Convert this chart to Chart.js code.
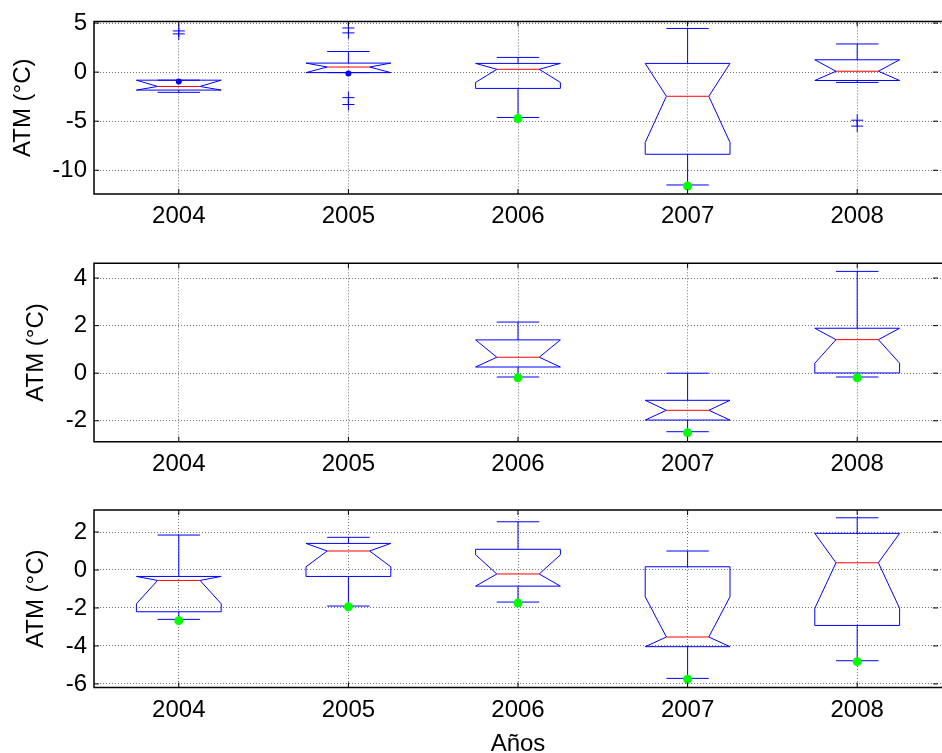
<!DOCTYPE html>
<html>
<head>
<meta charset="utf-8">
<script src="https://cdn.jsdelivr.net/npm/chart.js@4.4.0/dist/chart.umd.min.js"></script>
<style>
  html, body { margin: 0; padding: 0; background: #fff; overflow: hidden; }
  #wrap { position: relative; width: 942px; height: 753px; }
  canvas { position: absolute; left: 0; }
</style>
</head>
<body>
<div id="wrap">
  <canvas id="atm1" width="942" height="240" style="top:0px"></canvas>
  <canvas id="atm2" width="942" height="240" style="top:240px"></canvas>
  <canvas id="atm3" width="942" height="279" style="top:480px"></canvas>
</div>
<script>
var years = ['2004', '2005', '2006', '2007', '2008'];

// panel 1
var p1WhiskerHi = [-0.82, 2.10, 1.50, 4.45, 2.87];
var p1Q3        = [-0.82, 0.92, 0.89, 0.89, 1.26];
var p1NotchHi   = [-0.82, 0.92, 0.89, 0.89, 1.26];
var p1Median    = [-1.46, 0.52, 0.29, -2.46, 0.09];
var p1NotchLo   = [-1.83, -0.05, -1.05, -7.17, -0.85];
var p1Q1        = [-1.83, -0.05, -1.66, -8.37, -0.85];
var p1WhiskerLo = [-2.06, -0.05, -4.62, -11.5, -1.05];
var p1Outliers  = [[4.2, 3.9], [4.5, 4.0, -2.6, -3.3], [], [], [-4.9, -5.5]];
var p1Blue      = [-0.95, -0.15, null, null, null];
var p1Green     = [null, null, -4.72, -11.6, null];
var p1Ticks     = [-10, -5, 0, 5];

// panel 2
var p2WhiskerHi = [null, null, 2.15, 0.00, 4.28];
var p2Q3        = [null, null, 1.40, -1.14, 1.89];
var p2NotchHi   = [null, null, 1.40, -1.14, 1.89];
var p2Median    = [null, null, 0.67, -1.56, 1.41];
var p2NotchLo   = [null, null, 0.26, -1.97, 0.42];
var p2Q1        = [null, null, 0.26, -1.97, 0.01];
var p2WhiskerLo = [null, null, -0.16, -2.46, -0.16];
var p2Green     = [null, null, -0.19, -2.50, -0.19];
var p2Ticks     = [-2, 0, 2, 4];

// panel 3
var p3WhiskerHi = [1.84, 1.72, 2.54, 1.00, 2.75];
var p3Q3        = [-0.34, 1.40, 1.09, 0.17, 1.93];
var p3NotchHi   = [-0.34, 1.40, 0.80, -1.41, 1.93];
var p3Median    = [-0.55, 1.00, -0.21, -3.53, 0.38];
var p3NotchLo   = [-1.78, 0.17, -0.85, -4.04, -2.02];
var p3Q1        = [-2.20, -0.34, -0.85, -4.04, -2.92];
var p3WhiskerLo = [-2.60, -1.90, -1.69, -5.71, -4.78];
var p3Green     = [-2.67, -1.94, -1.74, -5.75, -4.83];
var p3Ticks     = [-6, -4, -2, 0, 2];

var boxWidth = 0.5;
var font = { family: 'Liberation Sans, Arial, sans-serif', size: 24 };
var boxes = {};

function pts(values) {
  var out = [];
  values.forEach(function (v, i) { if (v != null) out.push({ x: i + 1, y: v }); });
  return out;
}
function outlierPts(lists) {
  var out = [];
  lists.forEach(function (l, i) { l.forEach(function (v) { out.push({ x: i + 1, y: v }); }); });
  return out;
}

// notched boxes, drawn through the chart scales
var boxPlugin = {
  id: 'notchBox',
  beforeDatasetsDraw: function (chart) {
    var b = boxes[chart.canvas.id];
    var xs = chart.scales.x, ys = chart.scales.y, ctx = chart.ctx;
    var unit = xs.getPixelForValue(1) - xs.getPixelForValue(0);
    var hw = unit * boxWidth / 2, qw = hw / 2;
    ctx.save();
    ctx.lineWidth = 1;
    for (var i = 0; i < years.length; i++) {
      if (b.med[i] == null) continue;
      var x = xs.getPixelForValue(i + 1);
      var q1 = ys.getPixelForValue(b.q1[i]), q3 = ys.getPixelForValue(b.q3[i]);
      var md = ys.getPixelForValue(b.med[i]);
      var nlo = ys.getPixelForValue(b.nlo[i]), nhi = ys.getPixelForValue(b.nhi[i]);
      var wlo = ys.getPixelForValue(b.wlo[i]), whi = ys.getPixelForValue(b.whi[i]);
      ctx.strokeStyle = '#0000ff';
      ctx.beginPath();
      ctx.moveTo(x - hw, q1); ctx.lineTo(x - hw, nlo); ctx.lineTo(x - qw, md);
      ctx.lineTo(x - hw, nhi); ctx.lineTo(x - hw, q3);
      ctx.lineTo(x + hw, q3); ctx.lineTo(x + hw, nhi); ctx.lineTo(x + qw, md);
      ctx.lineTo(x + hw, nlo); ctx.lineTo(x + hw, q1);
      ctx.closePath();
      ctx.stroke();
      ctx.beginPath();
      ctx.moveTo(x, q3); ctx.lineTo(x, whi);
      ctx.moveTo(x, q1); ctx.lineTo(x, wlo);
      ctx.moveTo(x - qw, whi); ctx.lineTo(x + qw, whi);
      ctx.moveTo(x - qw, wlo); ctx.lineTo(x + qw, wlo);
      ctx.stroke();
      ctx.strokeStyle = '#ff0000';
      ctx.beginPath();
      ctx.moveTo(x - qw, md); ctx.lineTo(x + qw, md);
      ctx.stroke();
    }
    ctx.restore();
  }
};

// axes frame with inward ticks (matlab style), right edge falls off the picture
var framePlugin = {
  id: 'frame',
  afterDraw: function (chart) {
    var a = chart.chartArea, ctx = chart.ctx;
    ctx.save();
    ctx.strokeStyle = '#000';
    ctx.lineWidth = 1;
    ctx.beginPath();
    chart.scales.y.ticks.forEach(function (t) {
      var y = chart.scales.y.getPixelForValue(t.value);
      ctx.moveTo(a.left, y); ctx.lineTo(a.left + 5, y);
      ctx.moveTo(a.right - 4, y); ctx.lineTo(a.right - 9, y);
    });
    chart.scales.x.ticks.forEach(function (t) {
      var x = chart.scales.x.getPixelForValue(t.value);
      ctx.moveTo(x, a.bottom); ctx.lineTo(x, a.bottom - 5);
      ctx.moveTo(x, a.top); ctx.lineTo(x, a.top + 5);
    });
    ctx.stroke();
    ctx.lineWidth = 1.5;
    ctx.beginPath();
    ctx.moveTo(a.right + 2, a.top); ctx.lineTo(a.left, a.top);
    ctx.lineTo(a.left, a.bottom); ctx.lineTo(a.right + 2, a.bottom);
    ctx.stroke();
    ctx.restore();
  }
};

function makeChart(id, p) {
  boxes[id] = { whi: p.whi, q3: p.q3, nhi: p.nhi, med: p.med, nlo: p.nlo, q1: p.q1, wlo: p.wlo };
  var ctx = document.getElementById(id).getContext('2d');
  return new Chart(ctx, {
    type: 'scatter',
    data: {
      datasets: [{
        data: outlierPts(p.outliers || [[], [], [], [], []]),
        pointStyle: 'cross', radius: 6, borderColor: '#0000ff', borderWidth: 1
      }, {
        data: pts(p.blue || [null, null, null, null, null]),
        pointStyle: 'circle', radius: 3, backgroundColor: '#0000ff', borderWidth: 0
      }, {
        data: pts(p.green),
        pointStyle: 'circle', radius: 4.5, backgroundColor: '#00ff00', borderWidth: 0
      }]
    },
    options: {
      responsive: false,
      animation: false,
      devicePixelRatio: 1,
      layout: { autoPadding: false, padding: { top: p.padTop, left: 0, right: 0, bottom: 0 } },
      plugins: { legend: { display: false }, tooltip: { enabled: false } },
      scales: {
        x: {
          type: 'linear', min: 0.5, max: 5.5,
          afterBuildTicks: function (s) { s.ticks = years.map(function (y, i) { return { value: i + 1 }; }); },
          afterFit: function (s) { s.height = p.xAxisH; },
          ticks: { callback: function (v, i) { return years[i]; }, font: font, color: '#000', padding: 8, autoSkip: false, maxRotation: 0 },
          grid: { color: 'rgba(0,0,0,0.55)', drawTicks: false },
          border: { display: false, dash: [1, 2] },
          title: { display: !!p.xTitle, text: p.xTitle || '', font: font, color: '#000', padding: { top: 0, bottom: 0 } }
        },
        y: {
          min: p.yMin, max: p.yMax,
          afterBuildTicks: function (s) { s.ticks = p.ticks.map(function (v) { return { value: v }; }); },
          afterFit: function (s) { s.width = 94; },
          ticks: { font: font, color: '#000', padding: 7 },
          grid: { color: 'rgba(0,0,0,0.55)', drawTicks: false },
          border: { display: false, dash: [1, 2] },
          title: { display: true, text: 'ATM (°C)', font: font, color: '#000', padding: { top: p.yTitlePad, bottom: 0 } }
        }
      }
    },
    plugins: [boxPlugin, framePlugin]
  });
}

makeChart('atm1', {
  whi: p1WhiskerHi, q3: p1Q3, nhi: p1NotchHi, med: p1Median, nlo: p1NotchLo, q1: p1Q1, wlo: p1WhiskerLo,
  outliers: p1Outliers, blue: p1Blue, green: p1Green, ticks: p1Ticks,
  yMin: -12.42, yMax: 5.17, padTop: 19.5, xAxisH: 46, yTitlePad: 8.5
});
makeChart('atm2', {
  whi: p2WhiskerHi, q3: p2Q3, nhi: p2NotchHi, med: p2Median, nlo: p2NotchLo, q1: p2Q1, wlo: p2WhiskerLo,
  green: p2Green, ticks: p2Ticks,
  yMin: -2.88, yMax: 4.62, padTop: 23.3, xAxisH: 38.3, yTitlePad: 21.5
});
makeChart('atm3', {
  whi: p3WhiskerHi, q3: p3Q3, nhi: p3NotchHi, med: p3Median, nlo: p3NotchLo, q1: p3Q1, wlo: p3WhiskerLo,
  green: p3Green, ticks: p3Ticks,
  yMin: -6.19, yMax: 3.16, padTop: 30, xAxisH: 71.5, yTitlePad: 21.5, xTitle: 'Años'
});
</script>
</body>
</html>
